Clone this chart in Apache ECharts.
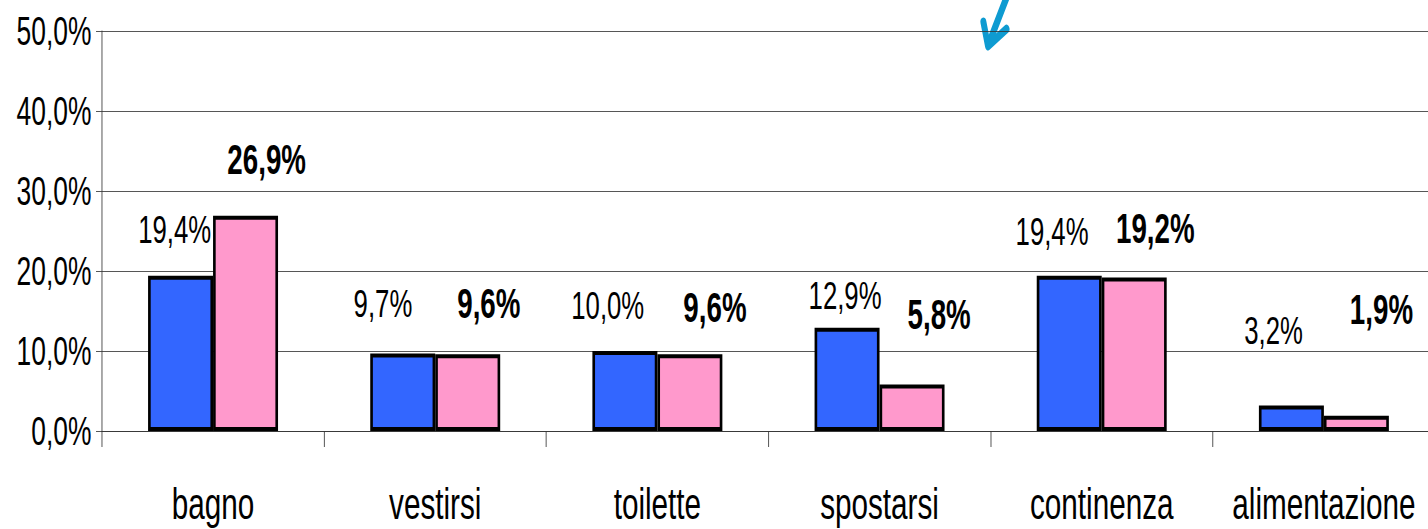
<!DOCTYPE html>
<html>
<head>
<meta charset="utf-8">
<script src="https://cdn.jsdelivr.net/npm/echarts@6/dist/echarts.min.js"></script>
<style>
  html, body { margin: 0; padding: 0; background: #fff; overflow: hidden; width: 1428px; height: 529px; }
  #chart { width: 2200px; height: 529px; transform: scaleX(0.66); transform-origin: 0 0; }
</style>
</head>
<body>
<div id="chart"></div>
<script>
// ---- data ----
const categories = ['bagno', 'vestirsi', 'toilette', 'spostarsi', 'continenza', 'alimentazione'];
const seriesBlue = [19.4, 9.7, 10.0, 12.9, 19.4, 3.2];
const seriesPink = [26.9, 9.6, 9.6, 5.8, 19.2, 1.9];
const yTicks = [0, 10, 20, 30, 40, 50];

// ---- label nudges (style only) ----
const blueLabelNudge = [[-9, -27], [-30, -31], [-26, -27], [-3, -13], [-26, -25], [-27, -56]];
const pinkLabelNudge = [[32, -25], [32, -19], [38, -15], [41, -39], [32, -18], [38, -75]];

const fmt = v => v.toFixed(1).replace('.', ',') + '%';
const FONT = '"Liberation Sans", Arial, sans-serif';

function build(values, nudges) {
  return values.map((v, i) => ({ value: v, label: { offset: nudges[i] } }));
}

const chart = echarts.init(document.getElementById('chart'), null, { renderer: 'svg' });
chart.setOption({
  animation: false,
  backgroundColor: '#fff',
  grid: { left: 154.5, top: 31, width: 2019.7, height: 400 },
  xAxis: {
    type: 'category',
    data: categories,
    axisLine: { show: true, lineStyle: { color: '#333', width: 1 } },
    axisTick: { show: true, length: 16, interval: 0, lineStyle: { color: '#333', width: 1 } },
    axisLabel: { color: '#000', fontFamily: FONT, fontSize: 45, margin: 50, interval: 0 },
    splitLine: { show: false }
  },
  yAxis: {
    type: 'value',
    min: yTicks[0],
    max: yTicks[yTicks.length - 1],
    interval: 10,
    axisLine: { show: true, lineStyle: { color: '#333', width: 1 } },
    axisTick: { show: true, length: 9, lineStyle: { color: '#333', width: 1 } },
    axisLabel: { color: '#000', fontFamily: FONT, fontSize: 40, margin: 16, formatter: v => fmt(v) },
    splitLine: { show: true, lineStyle: { color: '#333', width: 1 } }
  },
  series: [
    {
      name: 'Serie 1',
      type: 'bar',
      data: build(seriesBlue, blueLabelNudge),
      barGap: '0%',
      barCategoryGap: '41.5%',
      itemStyle: { color: '#3366FF', borderColor: '#000', borderWidth: 4 },
      label: {
        show: true, position: 'top', distance: 0,
        color: '#000', fontFamily: FONT, fontSize: 39, lineHeight: 38,
        formatter: p => fmt(p.value)
      }
    },
    {
      name: 'Serie 2',
      type: 'bar',
      data: build(seriesPink, pinkLabelNudge),
      itemStyle: { color: '#FF99CC', borderColor: '#000', borderWidth: 4 },
      label: {
        show: true, position: 'top', distance: 0,
        color: '#000', fontFamily: FONT, fontSize: 42, fontWeight: 'bold', lineHeight: 42,
        backgroundColor: '#fff', padding: [10, 3],
        formatter: p => fmt(p.value)
      }
    }
  ],
  graphic: [
    {
      type: 'group',
      silent: true,
      children: [
        { type: 'line', shape: { x1: 1526, y1: -4, x2: 1498, y2: 44 },
          style: { stroke: '#0E9BD1', lineWidth: 9, lineCap: 'round' } },
        { type: 'polyline', shape: { points: [[1490, 22], [1497, 46], [1525, 29]] },
          style: { stroke: '#0E9BD1', fill: null, lineWidth: 9, lineCap: 'round', lineJoin: 'round' } }
      ]
    }
  ]
});
</script>
</body>
</html>
